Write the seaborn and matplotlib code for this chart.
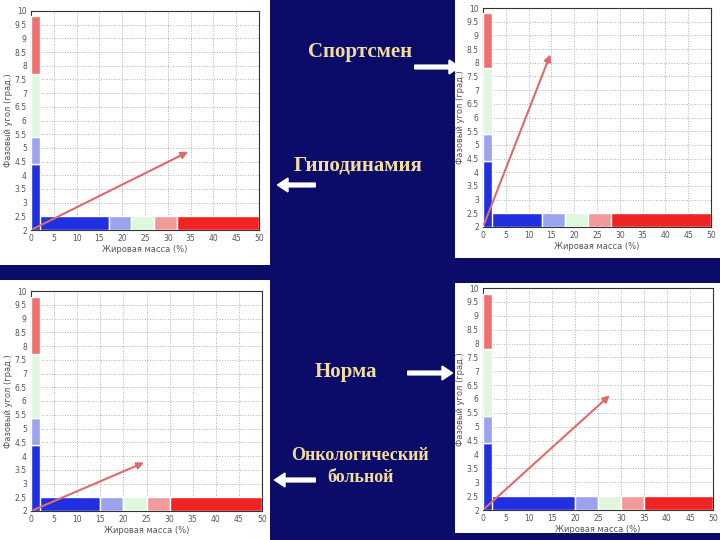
import matplotlib.pyplot as plt
import seaborn as sns

W, H = 720, 540

# fat-mass bands (x breakpoints, %) for each patient chart
band_colors = ['#2030e0', '#9ca2ee', '#dff7df', '#f29a9a', '#f02424']
angle_colors = ['#2030e0', '#9ca2ee', '#dff7df', '#f07070']

panels = {
    'hypo':  {'box': (0, 0, 270, 265), 'ax': (31, 11, 259, 230),
              'x_edges': [0, 17, 22, 27, 32, 50], 'y_edges': [2, 4.4, 5.4, 7.7, 9.8],
              'arrow': (35, 4.9)},
    'sport': {'box': (455, 0, 720, 258), 'ax': (483, 8, 711, 227),
              'x_edges': [0, 13, 18, 23, 28, 50], 'y_edges': [2, 4.4, 5.4, 7.8, 9.8],
              'arrow': (15, 8.4)},
    'onco':  {'box': (0, 280, 270, 540), 'ax': (31, 291, 262, 511),
              'x_edges': [0, 15, 20, 25, 30, 50], 'y_edges': [2, 4.4, 5.4, 7.7, 9.8],
              'arrow': (25, 3.8)},
    'norm':  {'box': (455, 283, 720, 533), 'ax': (483, 288, 713, 510),
              'x_edges': [0, 20, 25, 30, 35, 50], 'y_edges': [2, 4.4, 5.4, 7.8, 9.8],
              'arrow': (28, 6.2)},
}

x_ticks = list(range(0, 51, 5))
y_ticks = [2 + 0.5 * i for i in range(17)]

sns.set_style('white')
fig = plt.figure(figsize=(W / 100, H / 100), dpi=100)
fig.patch.set_facecolor('#0b0b6a')


def frac(l, t, r, b):
    return [l / W, 1 - b / H, (r - l) / W, (b - t) / H]


for name, p in panels.items():
    bg = fig.add_axes(frac(*p['box']))
    bg.set_facecolor('white')
    bg.set_xticks([])
    bg.set_yticks([])
    for s in bg.spines.values():
        s.set_visible(False)

    ax = fig.add_axes(frac(*p['ax']))
    ax.set_xlim(0, 50)
    ax.set_ylim(2, 10)
    ax.set_xticks(x_ticks)
    ax.set_yticks(y_ticks)
    ax.set_yticklabels([f'{v:g}' for v in y_ticks])
    ax.grid(True, color='#b0b0b0', linestyle=':', linewidth=0.7)
    ax.tick_params(labelsize=5.5, colors='#555555', length=2, pad=1)
    ax.set_xlabel('Жировая масса (%)', fontsize=6, color='#555555', labelpad=1)
    ax.set_ylabel('Фазовый угол (град.)', fontsize=6, color='#555555', labelpad=1)
    for s in ax.spines.values():
        s.set_color('#333333')
        s.set_linewidth(0.8)

    xe = p['x_edges']
    for i, c in enumerate(band_colors):
        ax.barh(2.25, xe[i + 1] - xe[i], left=xe[i], height=0.5, color=c, zorder=3)
    ye = p['y_edges']
    for i, c in enumerate(angle_colors):
        ax.bar(1.0, ye[i + 1] - ye[i], bottom=ye[i], width=2.0, color=c, zorder=3)

    ax.annotate('', xy=p['arrow'], xytext=(0, 2),
                arrowprops=dict(arrowstyle='-|>', color='#e06a6a', lw=1.5,
                                mutation_scale=10), zorder=5)

labels = [
    ('Спортсмен', 360, 52, 15),
    ('Гиподинамия', 358, 166, 15),
    ('Норма', 346, 372, 15),
    ('Онкологический', 360, 455, 13),
    ('больной', 360, 478, 13),
]
for text, x, y, size in labels:
    fig.text(x / W, 1 - y / H, text, ha='center', va='center',
             family=['Liberation Serif', 'DejaVu Serif'], fontweight='bold',
             fontsize=size, color='#f2dd9a')

white_arrows = [
    ((412, 67), (462, 67)),
    ((318, 185), (275, 185)),
    ((405, 373), (455, 373)),
    ((318, 480), (272, 480)),
]
for (x0, y0), (x1, y1) in white_arrows:
    fig.add_artist(plt.annotate('', xy=(x1 / W, 1 - y1 / H), xytext=(x0 / W, 1 - y0 / H),
                                xycoords='figure fraction',
                                arrowprops=dict(arrowstyle='simple,head_width=0.8,head_length=0.6',
                                                color='white', mutation_scale=12)))

fig.savefig('out.png', dpi=100, facecolor=fig.get_facecolor())
